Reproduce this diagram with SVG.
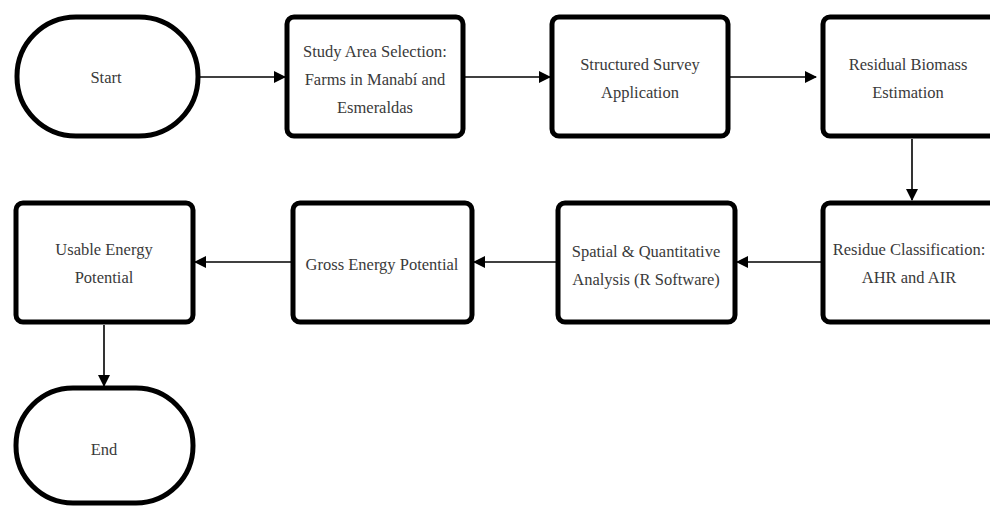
<svg xmlns="http://www.w3.org/2000/svg" width="990" height="506" viewBox="0 0 990 506">
<style>
.box{fill:#fff;stroke:#000;stroke-width:5}
.t{font-family:"Liberation Serif","DejaVu Serif",serif;font-size:16.5px;fill:#3a3a3a;text-anchor:middle;dominant-baseline:central}
.c{stroke:#000;stroke-width:1.6;fill:none;marker-end:url(#ah)}
</style>
<defs>
<marker id="ah" markerWidth="12" markerHeight="12" refX="11" refY="6" orient="auto" markerUnits="userSpaceOnUse">
<path d="M0,0 L12,6 L0,12 Z" fill="#000"/>
</marker>
</defs>
<rect width="990" height="506" fill="#fff"/>
<g id="connectors">
<line class="c" x1="199" y1="77" x2="285" y2="77"/>
<line class="c" x1="465" y1="77" x2="550" y2="77"/>
<line class="c" x1="730" y1="77" x2="816" y2="77"/>
<line class="c" x1="912" y1="139" x2="912" y2="200"/>
<line class="c" x1="821" y1="262" x2="737" y2="262"/>
<line class="c" x1="556" y1="262" x2="474" y2="262"/>
<line class="c" x1="291" y1="262" x2="195" y2="262"/>
<line class="c" x1="104" y1="325" x2="104" y2="386"/>
</g>
<g id="start"><rect class="box" x="17" y="17" width="181" height="119" rx="59"/><text class="t" x="106" y="77">Start</text></g>
<g id="study"><rect class="box" x="287" y="17" width="176" height="119" rx="7"/><text class="t" x="375" y="51">Study Area Selection:</text><text class="t" x="375" y="79">Farms in Manabí and</text><text class="t" x="375" y="107">Esmeraldas</text></g>
<g id="survey"><rect class="box" x="552" y="17" width="176" height="119" rx="7"/><text class="t" x="640" y="64">Structured Survey</text><text class="t" x="640" y="92">Application</text></g>
<g id="biomass"><rect class="box" x="823" y="17" width="180" height="119" rx="7"/><text class="t" x="908" y="64">Residual Biomass</text><text class="t" x="908" y="92">Estimation</text></g>
<g id="classification"><rect class="box" x="823" y="203" width="180" height="119" rx="7"/><text class="t" x="909" y="249">Residue Classification:</text><text class="t" x="909" y="277">AHR and AIR</text></g>
<g id="spatial"><rect class="box" x="558" y="203" width="177" height="119" rx="7"/><text class="t" x="646" y="251">Spatial &amp; Quantitative</text><text class="t" x="646" y="279">Analysis (R Software)</text></g>
<g id="gross"><rect class="box" x="293" y="203" width="179" height="119" rx="7"/><text class="t" x="382" y="264">Gross Energy Potential</text></g>
<g id="usable"><rect class="box" x="16" y="203" width="177" height="119" rx="7"/><text class="t" x="104" y="249">Usable Energy</text><text class="t" x="104" y="277">Potential</text></g>
<g id="end"><rect class="box" x="16" y="388" width="177" height="115" rx="57"/><text class="t" x="104" y="449">End</text></g>
</svg>
